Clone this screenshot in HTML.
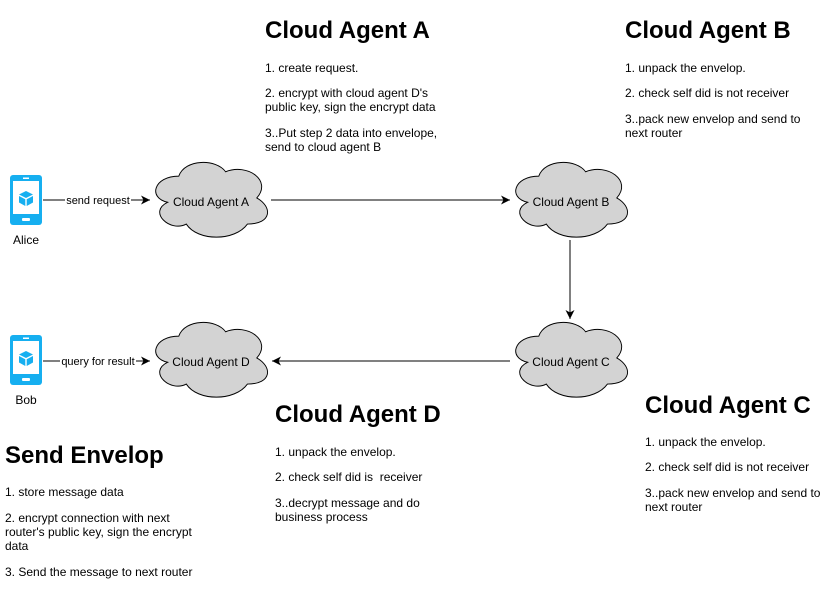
<!DOCTYPE html>
<html><head><meta charset="utf-8"><style>
html,body{margin:0;padding:0;background:#fff;}
svg{display:block;font-family:"Liberation Sans",Arial,sans-serif;}
.h{font-size:24px;font-weight:bold;fill:#000;}
.t{font-size:12px;fill:#000;}
.c{font-size:11px;fill:#000;text-anchor:middle;}
.cl{font-size:12px;fill:#000;text-anchor:middle;}
</style></head><body>
<svg width="831" height="596" viewBox="0 0 831 596" xmlns="http://www.w3.org/2000/svg">
<defs>
<path id="cloud" d="M 25 20 C 1 20 -5 40 14.2 44 C -5 52.8 16.6 72 32.2 64 C 43 80 79 80 91 64 C 115 64 115 48 100 40 C 115 24 91 8 70 16 C 61 4 31 4 25 20 Z"/>
<g id="phone">
<rect x="10" y="0" width="32" height="50" rx="3" fill="#16aff0"/>
<rect x="13" y="6" width="26" height="33" fill="#fff"/>
<rect x="22" y="43" width="8" height="3" rx="1" fill="#fff"/>
<rect x="23" y="2.5" width="6" height="1.5" fill="#fff"/>
<polygon points="26,16 33,19.5 26,23 19,19.5" fill="#16aff0"/>
<polygon points="19,21 25.3,24.3 25.3,31 19,27.5" fill="#16aff0"/>
<polygon points="33,21 26.7,24.3 26.7,31 33,27.5" fill="#16aff0"/>
</g>
<marker id="ar" markerWidth="12" markerHeight="12" refX="9" refY="5" orient="auto" markerUnits="userSpaceOnUse">
<path d="M0,0.5 L9,5 L0,9.5 L2.5,5 Z" fill="#000"/>
</marker>
</defs>

<g fill="#d3d3d3" stroke="#000" stroke-width="0.9">
<use href="#cloud" transform="translate(152.8,154.3) scale(1.04,1.09)"/>
<use href="#cloud" transform="translate(512.8,154.3) scale(1.04,1.09)"/>
<use href="#cloud" transform="translate(512.8,314.3) scale(1.04,1.09)"/>
<use href="#cloud" transform="translate(152.8,314.3) scale(1.04,1.09)"/>
</g>
<text class="cl" x="211" y="206">Cloud Agent A</text>
<text class="cl" x="571" y="206">Cloud Agent B</text>
<text class="cl" x="571" y="366">Cloud Agent C</text>
<text class="cl" x="211" y="366">Cloud Agent D</text>

<use href="#phone" transform="translate(0,175)"/>
<use href="#phone" transform="translate(0,335)"/>
<text class="cl" x="26" y="244">Alice</text>
<text class="cl" x="26" y="404">Bob</text>

<g stroke="#000" stroke-width="1" fill="none">
<line x1="43" y1="200" x2="150" y2="200" marker-end="url(#ar)"/>
<line x1="271" y1="200" x2="510" y2="200" marker-end="url(#ar)"/>
<line x1="570" y1="240" x2="570" y2="319" marker-end="url(#ar)"/>
<line x1="510" y1="361" x2="272" y2="361" marker-end="url(#ar)"/>
<line x1="43" y1="361" x2="150" y2="361" marker-end="url(#ar)"/>
</g>
<rect x="65" y="193" width="66" height="13" fill="#fff"/>
<text class="c" x="98" y="204">send request</text>
<rect x="60" y="354" width="76" height="13" fill="#fff"/>
<text class="c" x="98" y="365">query for result</text>

<text class="h" x="265" y="38">Cloud Agent A</text>
<text class="t" x="265" y="72">1. create request.</text>
<text class="t" x="265" y="97">2. encrypt with cloud agent D's</text>
<text class="t" x="265" y="111">public key, sign the encrypt data</text>
<text class="t" x="265" y="137">3..Put step 2 data into envelope,</text>
<text class="t" x="265" y="151">send to cloud agent B</text>

<text class="h" x="625" y="38">Cloud Agent B</text>
<text class="t" x="625" y="72">1. unpack the envelop.</text>
<text class="t" x="625" y="97">2. check self did is not receiver</text>
<text class="t" x="625" y="123">3..pack new envelop and send to</text>
<text class="t" x="625" y="137">next router</text>

<text class="h" x="645" y="413">Cloud Agent C</text>
<text class="t" x="645" y="446">1. unpack the envelop.</text>
<text class="t" x="645" y="471">2. check self did is not receiver</text>
<text class="t" x="645" y="497">3..pack new envelop and send to</text>
<text class="t" x="645" y="511">next router</text>

<text class="h" x="275" y="422">Cloud Agent D</text>
<text class="t" x="275" y="456">1. unpack the envelop.</text>
<text class="t" x="275" y="481">2. check self did is&#160; receiver</text>
<text class="t" x="275" y="507">3..decrypt message and do</text>
<text class="t" x="275" y="521">business process</text>

<text class="h" x="5" y="463">Send Envelop</text>
<text class="t" x="5" y="496">1. store message data</text>
<text class="t" x="5" y="522">2. encrypt connection with next</text>
<text class="t" x="5" y="536">router's public key, sign the encrypt</text>
<text class="t" x="5" y="550">data</text>
<text class="t" x="5" y="576">3. Send the message to next router</text>
</svg>
</body></html>
